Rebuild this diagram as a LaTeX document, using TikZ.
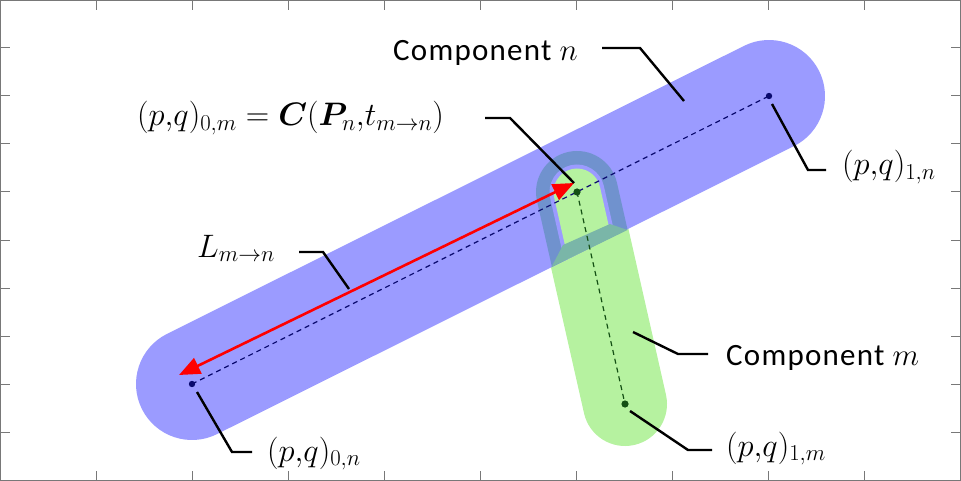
\RequirePackage{fix-cm}
\documentclass[tikz,border=0pt]{standalone}
\usepackage{fontspec}
\setmainfont{Carlito}
\usepackage{bm}
\usetikzlibrary{arrows.meta}
\definecolor{capblue}{RGB}{155,155,255}
\definecolor{capgreen}{RGB}{182,242,160}
\definecolor{ringc}{RGB}{112,146,206}
\definecolor{trapc}{RGB}{122,182,168}
\definecolor{axisn}{RGB}{10,10,110}
\definecolor{axism}{RGB}{20,80,20}
\definecolor{framec}{RGB}{120,120,120}
\tikzset{
  leader/.style={draw=black, line width=2.4pt},
  mathlbl/.style={inner sep=0pt, anchor=base west, font=\fontsize{32.5}{38}\selectfont},
  txtlbl/.style={inner sep=0pt, anchor=base west, font=\fontsize{31}{36}\selectfont\addfontfeature{LetterSpace=4}},
  tickline/.style={draw=framec, line width=1pt},
  dotn/.style={fill=axisn},
  dotm/.style={fill=axism}
}
\begin{document}
\begin{tikzpicture}[x=1pt,y=-1pt]
\useasboundingbox (0,0) rectangle (961,481);
% frame
\draw[framec, line width=1pt] (0.5,0.5) rectangle (960.5,480.5);
\foreach \i in {1,...,9} {
  \draw[tickline] (96*\i,0.5) -- (96*\i,10);
  \draw[tickline] (96*\i,480.5) -- (96*\i,471);
}
\foreach \i in {1,...,9} {
  \draw[tickline] (0.5,48*\i) -- (10,48*\i);
  \draw[tickline] (960.5,48*\i) -- (951,48*\i);
}
% coordinates
\coordinate (n0) at (192,384);
\coordinate (n1) at (769,96);
\coordinate (m0) at (577,192);
\coordinate (m1) at (625,404);
% component m body
\draw[capgreen, line width=84pt, line cap=round] (m0) -- (m1);
% component n body
\draw[capblue, line width=112pt, line cap=round] (n0) -- (n1);
% joint
\begin{scope}
  \clip (400,342.8) -- (800,143.1) -- (800,0) -- (400,0) -- cycle;
  \draw[ringc, line width=82pt, line cap=round] (m0) -- (m1);
  \draw[capblue, line width=55pt, line cap=round] (m0) -- (m1);
  \draw[capgreen, line width=47pt, line cap=round] (m0) -- (m1);
\end{scope}
\fill[trapc] (563,245) -- (610,224) -- (627.5,230) -- (551.5,267) -- cycle;
% axes
\draw[axisn, line width=1.2pt, dash pattern=on 5pt off 4pt] (n0) -- (n1);
\draw[axism, line width=1.2pt, dash pattern=on 5pt off 4pt] (m0) -- (m1);
\fill[dotn] (n0) circle (3.2);
\fill[dotn] (n1) circle (3.2);
\fill[dotm] (m0) circle (3.6);
\fill[dotm] (m1) circle (3.6);
% red arrow
\coordinate (ra) at (179,375);
\coordinate (rb) at (574,183);
\draw[red, line width=2.6pt, {Triangle[length=21pt,width=17pt]}-{Triangle[length=21pt,width=17pt]}] (ra) -- (rb);
% labels
\node[txtlbl] (compn) at (393,61) {Component $n$};
\node[txtlbl] (compm) at (726,365) {Component $m$};
\node[mathlbl] (cdef) at (137,126) {$(p{,}q)_{0,m}=\bm{C}(\bm{P}_n{,}t_{m\to n})$};
\node[mathlbl] (lmn) at (197,257) {$L_{m\to n}$};
\node[mathlbl] (p1n) at (842,175) {$(p{,}q)_{1,n}$};
\node[mathlbl] (p1m) at (726,456) {$(p{,}q)_{1,m}$};
\node[mathlbl] (p0n) at (267,461) {$(p{,}q)_{0,n}$};
% leaders
\coordinate (lcn1) at (602,48);  \coordinate (lcn2) at (640,48);  \coordinate (lcn3) at (684,101);
\draw[leader] (lcn1) -- (lcn2) -- (lcn3);
\coordinate (lcd1) at (485,118); \coordinate (lcd2) at (510,118);
\draw[leader] (lcd1) -- (lcd2) -- (rb);
\coordinate (lp1n1) at (772,104); \coordinate (lp1n2) at (808,170); \coordinate (lp1n3) at (826,170);
\draw[leader] (lp1n1) -- (lp1n2) -- (lp1n3);
\coordinate (ll1) at (299,252); \coordinate (ll2) at (323,252); \coordinate (ll3) at (349,289);
\draw[leader] (ll1) -- (ll2) -- (ll3);
\coordinate (lcm1) at (633,332); \coordinate (lcm2) at (678,354); \coordinate (lcm3) at (708,354);
\draw[leader] (lcm1) -- (lcm2) -- (lcm3);
\coordinate (lp1m1) at (630,411); \coordinate (lp1m2) at (688,450); \coordinate (lp1m3) at (712,450);
\draw[leader] (lp1m1) -- (lp1m2) -- (lp1m3);
\coordinate (lp0n1) at (197,392); \coordinate (lp0n2) at (232,452); \coordinate (lp0n3) at (252,452);
\draw[leader] (lp0n1) -- (lp0n2) -- (lp0n3);
\end{tikzpicture}
\end{document}
